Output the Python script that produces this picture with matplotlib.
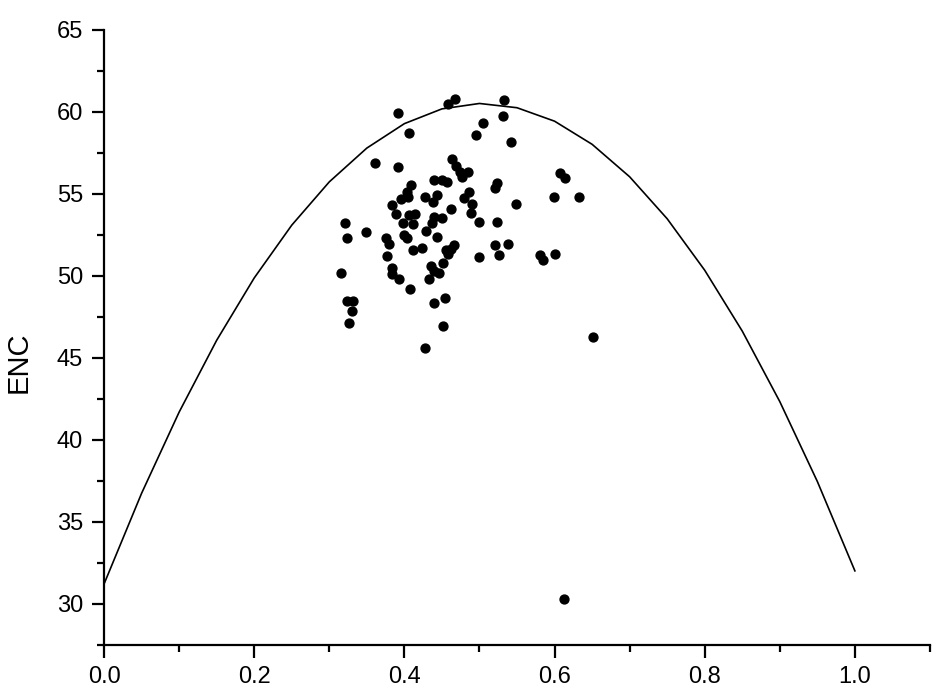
import matplotlib
matplotlib.use("Agg")
import matplotlib.pyplot as plt
from matplotlib.ticker import MultipleLocator

plt.rcParams['font.family'] = ['Liberation Sans', 'DejaVu Sans']

# GC3s (x) and ENC (y) of each gene
gc3s = [0.391, 0.458, 0.467, 0.406, 0.361, 0.391, 0.463, 0.469, 0.474, 0.477,
        0.485, 0.439, 0.450, 0.457, 0.409, 0.403, 0.405, 0.395, 0.427, 0.444,
        0.438, 0.486, 0.480, 0.490, 0.383, 0.389, 0.406, 0.414, 0.462, 0.489,
        0.439, 0.450, 0.398, 0.411, 0.437, 0.500, 0.321, 0.533, 0.531, 0.505,
        0.495, 0.542, 0.521, 0.524, 0.524, 0.607, 0.614, 0.599, 0.633, 0.548,
        0.324, 0.349, 0.376, 0.380, 0.400, 0.404, 0.429, 0.444, 0.411, 0.424,
        0.455, 0.458, 0.462, 0.466, 0.377, 0.500, 0.452, 0.384, 0.384, 0.393,
        0.436, 0.439, 0.446, 0.433, 0.315, 0.407, 0.323, 0.332, 0.330, 0.326,
        0.440, 0.454, 0.451, 0.428, 0.521, 0.538, 0.526, 0.580, 0.584, 0.601,
        0.651, 0.613]
enc = [59.94, 60.46, 60.79, 58.67, 56.88, 56.62, 57.11, 56.67, 56.30, 56.02,
       56.34, 55.85, 55.85, 55.70, 55.53, 55.09, 54.81, 54.68, 54.81, 54.93,
       54.52, 55.09, 54.73, 54.40, 54.28, 53.76, 53.67, 53.76, 54.08, 53.84,
       53.59, 53.52, 53.23, 53.15, 53.19, 53.27, 53.19, 60.73, 59.76, 59.29,
       58.58, 58.18, 55.35, 55.65, 53.25, 56.26, 55.96, 54.79, 54.82, 54.40,
       52.28, 52.67, 52.29, 51.96, 52.48, 52.30, 52.73, 52.36, 51.55, 51.67,
       51.55, 51.35, 51.64, 51.84, 51.19, 51.11, 50.75, 50.44, 50.12, 49.81,
       50.58, 50.30, 50.17, 49.81, 50.14, 49.20, 48.48, 48.48, 47.82, 47.09,
       48.32, 48.62, 46.95, 45.61, 51.88, 51.96, 51.25, 51.23, 50.97, 51.31,
       46.24, 30.26]

# Expected-ENC curve
curve_gc3s = [0.00, 0.05, 0.10, 0.15, 0.20, 0.25, 0.30, 0.35, 0.40, 0.45, 0.50,
              0.55, 0.60, 0.65, 0.70, 0.75, 0.80, 0.85, 0.90, 0.95, 1.00]
curve_enc = [31.20, 36.73, 41.68, 46.06, 49.86, 53.08, 55.72, 57.78, 59.27, 60.17,
             60.50, 60.24, 59.42, 58.01, 56.03, 53.47, 50.33, 46.62, 42.32, 37.45,
             32.00]

x_ticks = [0.0, 0.2, 0.4, 0.6, 0.8, 1.0]
x_tick_labels = ["0.0", "0.2", "0.4", "0.6", "0.8", "1.0"]
y_ticks = [30, 35, 40, 45, 50, 55, 60, 65]
y_label = "ENC"

fig = plt.figure(figsize=(9.45, 6.98), dpi=100)
ax = fig.add_axes([0.1101, 0.0764, 0.8740, 0.8811])

ax.plot(curve_gc3s, curve_enc, color="black", lw=1.2, zorder=2)
ax.plot(gc3s, enc, linestyle="none", marker="o", markersize=6.4,
        markerfacecolor="black", markeredgecolor="black", zorder=3)

ax.set_xlim(0.0, 1.1)
ax.set_ylim(27.5, 65)
ax.set_xticks(x_ticks)
ax.set_xticklabels(x_tick_labels)
ax.set_yticks(y_ticks)
ax.xaxis.set_minor_locator(MultipleLocator(0.1))
ax.yaxis.set_minor_locator(MultipleLocator(2.5))

for side in ("top", "right"):
    ax.spines[side].set_visible(False)
for side in ("left", "bottom"):
    ax.spines[side].set_linewidth(1.6)

ax.tick_params(which="major", direction="out", length=9, width=1.6,
               labelsize=17, pad=6, colors="black")
ax.tick_params(which="minor", direction="out", length=5, width=1.6)

ax.set_ylabel(y_label, fontsize=21)
ax.yaxis.set_label_coords(-0.0863, 0.46)

fig.savefig("out.png", dpi=100, facecolor="white")
